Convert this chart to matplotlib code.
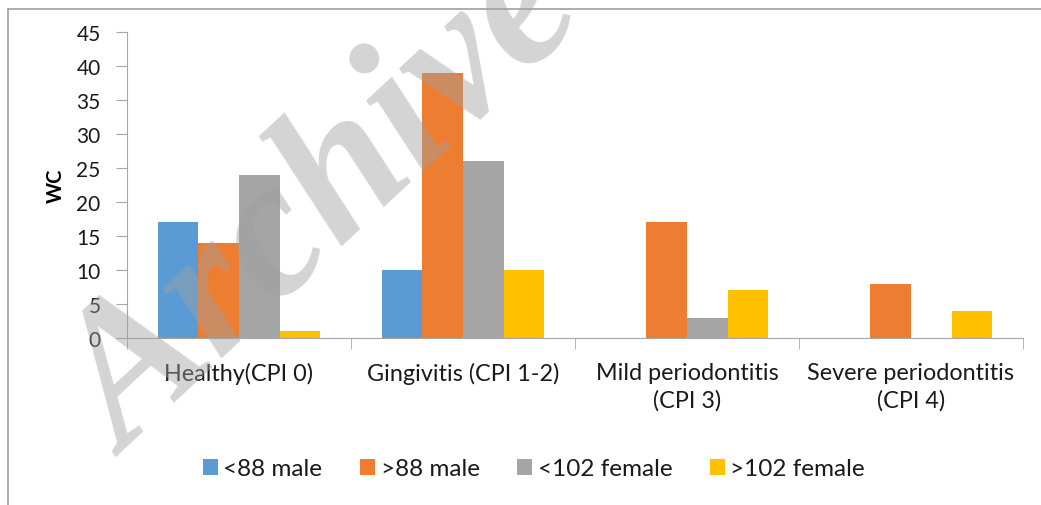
import matplotlib
matplotlib.use("Agg")
import matplotlib.pyplot as plt
import numpy as np
from matplotlib.lines import Line2D

categories = ["Healthy(CPI 0)", "Gingivitis (CPI 1-2)", "Mild periodontitis\n(CPI 3)", "Severe periodontitis\n(CPI 4)"]
series_names = ["<88 male", ">88 male", "<102 female", ">102 female"]
lt88_male = [17, 10, 0, 0]
gt88_male = [14, 39, 17, 8]
lt102_female = [24, 26, 3, 0]
gt102_female = [1, 10, 7, 4]
y_ticks = [0, 5, 10, 15, 20, 25, 30, 35, 40, 45]
colors = ["#5B9BD5", "#ED7D31", "#A5A5A5", "#FFC000"]

plt.rcParams['font.family'] = ['Lato', 'DejaVu Sans']
plt.rcParams['text.color'] = '#1a1a1a'

fig = plt.figure(figsize=(10.41, 5.06), dpi=100)
W, H = 1041, 506
ax = fig.add_axes([127 / W, 1 - 339 / H, (1023 - 127) / W, (339 - 33) / H])

x = np.arange(len(categories))
bw = 0.181
data = [lt88_male, gt88_male, lt102_female, gt102_female]
for i, (vals, c, name) in enumerate(zip(data, colors, series_names)):
    ax.bar(x + (i - 1.5) * bw, vals, bw, color=c, label=name, zorder=2)

ax.set_xlim(-0.5, len(categories) - 0.5)
ax.set_ylim(0, 45)
ax.set_yticks(y_ticks)
ax.tick_params(axis='y', labelsize=15, length=8, color="#a6a6a6", pad=11, labelcolor="#1a1a1a")
ax.set_xticks(x)
ax.set_xticklabels(categories, fontsize=16.8, linespacing=1.35, color="#1a1a1a")
ax.tick_params(axis='x', length=0, pad=17)
ax.set_xticks(np.arange(len(categories) + 1) - 0.5, minor=True)
ax.tick_params(axis='x', which='minor', length=8, color="#a6a6a6")
for s in ["top", "right"]:
    ax.spines[s].set_visible(False)
ax.spines["left"].set_color("#a6a6a6")
ax.spines["bottom"].set_color("#a6a6a6")
ax.set_ylabel("WC", fontsize=14.5, fontweight="bold")
ax.yaxis.set_label_coords(-0.068, 0.5)

leg = fig.legend(loc="center", bbox_to_anchor=(534 / W, 1 - 470 / H), ncol=4, frameon=False,
                 fontsize=17.5, handlelength=0.62, handleheight=0.62, handletextpad=0.22,
                 columnspacing=1.55)

# outer frame (cut off at right and bottom)
fig.add_artist(Line2D([8 / W, 8 / W], [0, 1 - 10 / H], transform=fig.transFigure, color="#a0a0a0", lw=1.2))
fig.add_artist(Line2D([8 / W, 1], [1 - 10 / H, 1 - 10 / H], transform=fig.transFigure, color="#a0a0a0", lw=1.2))

# watermark
fig.text(326 / W, 1 - 206 / H, "Archive", fontsize=142, family="Liberation Serif", style="italic",
         fontweight="bold", color="#a0a0a0", alpha=0.45, rotation=43, ha="center", va="center", zorder=10)

fig.savefig("out.png", dpi=100)
